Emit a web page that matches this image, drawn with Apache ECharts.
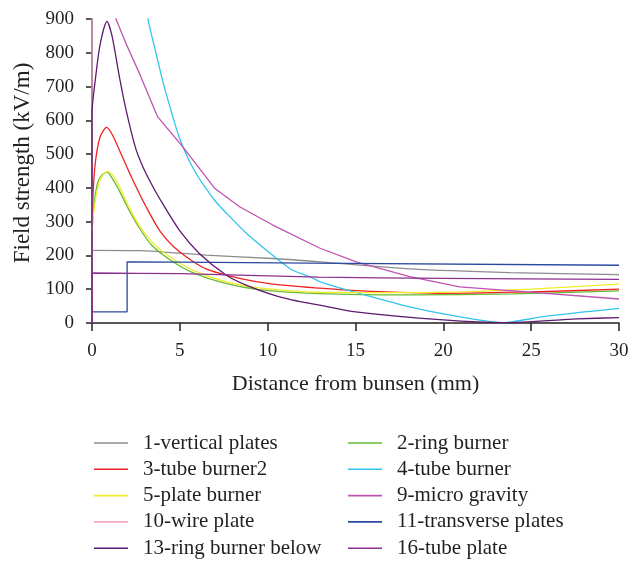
<!DOCTYPE html>
<html>
<head>
<meta charset="utf-8">
<script src="https://cdn.jsdelivr.net/npm/echarts@6/dist/echarts.min.js"></script>
<style>
html,body{margin:0;padding:0;background:#fff;}
#chart{width:643px;height:562px;}
</style>
</head>
<body>
<div id="chart"></div>
<script>
var xTicks = [0, 5, 10, 15, 20, 25, 30];
var yTicks = [0, 100, 200, 300, 400, 500, 600, 700, 800, 900];

var names = ['1-vertical plates','2-ring burner','3-tube burner2','4-tube burner','5-plate burner','9-micro gravity','10-wire plate','11-transverse plates','13-ring burner below','16-tube plate'];

var verticalPlates = [[0,215],[2.7,214],[6.5,201],[10.3,191],[12.95,181],[18.1,160],[23.8,149],[30,143]];
var ringBurner = [[0,270],[0.15,365],[0.35,420],[0.6,440],[0.88,446],[1.15,428],[1.5,397],[2.05,340],[2.65,285],[3.4,230],[4.5,185],[5.7,150],[7.6,117],[9.5,99],[12.9,87],[18,83],[24,86],[30,95]];
var tubeBurner2 = [[0,300],[0.15,455],[0.45,550],[0.83,579],[1.2,553],[1.7,495],[2.31,425],[3.08,344],[3.9,270],[5,210],[6.5,160],[8.4,132],[10.3,115],[12.95,103],[15,96],[20,88],[25,92],[30,100]];
var tubeBurner = [[3.0,960],[3.2,896],[3.6,808],[4.0,722],[4.5,628],[5.0,545],[5.5,484],[6.0,436],[6.5,398],[7.0,362],[7.6,328],[8.8,265],[10.3,200],[11.4,157],[12.4,137],[13,122],[14.85,93],[18.08,48],[20.9,19],[23.4,1],[25.7,19],[30,43]];
var plateBurner = [[0,275],[0.15,350],[0.4,415],[0.7,443],[0.97,448],[1.25,432],[1.6,400],[2.1,343],[2.7,288],[3.5,235],[4.6,190],[5.8,155],[7.7,121],[9.6,103],[13,91],[18,90],[21,92],[25,100],[30,115]];
var microGravity = [[1.2,950],[1.37,899],[1.94,827],[2.7,739],[3.74,610],[5.16,522],[7.0,398],[8.4,344],[10.29,290],[12.95,222],[15.04,181],[18.08,137],[20.93,107],[24,95],[30,71]];
var wirePlate = [[0,0],[0,1000]];
var transversePlates = [[0,33],[2,33],[2,181],[5,180],[12.4,177],[30,171]];
var ringBurnerBelow = [[0,0],[0,620],[0.2,725],[0.47,827],[0.85,893],[1.14,850],[1.52,740],[1.9,640],[2.47,520],[2.9,462],[3.4,410],[3.83,370],[4.97,275],[6.11,206],[7.63,142],[8.77,112],[10.3,83],[11.43,68],[12.95,53],[15,33],[20,9],[23.5,1],[27.6,12],[30,16]];
var tubePlate = [[0,0],[0,148],[5,146],[12.9,136],[20,132],[30,129]];

var colors = ['#8c8c8c','#66bb33','#ee2222','#33c4ee','#f0ec2c','#c052b0','#f4a6c8','#2a4aa0','#5e1a6e','#8a3090'];
var datasets = [verticalPlates, ringBurner, tubeBurner2, tubeBurner, plateBurner, microGravity, wirePlate, transversePlates, ringBurnerBelow, tubePlate];
var smoothFlags = [0.25, 0.25, 0.25, 0.25, 0.25, false, false, false, 0.25, 0.25];

var FONT = '"Liberation Serif", "DejaVu Serif", serif';
var TXT = '#231f20';

var series = names.map(function (n, i) {
  return {
    name: n,
    type: 'line',
    data: datasets[i],
    showSymbol: false,
    symbol: 'none',
    smooth: smoothFlags[i],
    clip: true,
    lineStyle: { color: colors[i], width: 1.3 },
    itemStyle: { color: colors[i] },
    emphasis: { disabled: true }
  };
});

function legendCfg(list, left) {
  return {
    orient: 'vertical',
    left: left,
    top: 432,
    height: 200,
    padding: 0,
    data: list,
    icon: 'rect',
    itemWidth: 34,
    itemHeight: 1.6,
    itemGap: 4.3,
    selectedMode: false,
    textStyle: { fontFamily: FONT, fontSize: 21, color: TXT, lineHeight: 22, padding: [0, 0, 0, 10] }
  };
}

var chart = echarts.init(document.getElementById('chart'), null, { renderer: 'canvas' });
chart.setOption({
  animation: false,
  backgroundColor: '#ffffff',
  grid: { left: 92, right: 24, top: 19, bottom: 239, containLabel: false },
  legend: [
    legendCfg([names[0], names[2], names[4], names[6], names[8]], 94),
    legendCfg([names[1], names[3], names[5], names[7], names[9]], 348)
  ],
  xAxis: {
    type: 'value', min: xTicks[0], max: xTicks[xTicks.length - 1], interval: 5,
    name: 'Distance from bunsen (mm)', nameLocation: 'middle', nameGap: 50,
    nameTextStyle: { fontFamily: FONT, fontSize: 22, color: TXT },
    axisLine: { onZero: false, lineStyle: { color: '#231f20', width: 1.5 } },
    axisTick: { inside: false, length: 8, lineStyle: { color: '#231f20', width: 1.5 } },
    axisLabel: { fontFamily: FONT, fontSize: 19, color: TXT, margin: 19 },
    splitLine: { show: false }
  },
  yAxis: {
    type: 'value', min: yTicks[0], max: yTicks[yTicks.length - 1], interval: 100,
    name: 'Field strength (kV/m)', nameLocation: 'middle', nameGap: 57,
    nameTextStyle: { fontFamily: FONT, fontSize: 23, color: TXT, padding: [0, 0, 0, 16] },
    axisLine: { show: true, lineStyle: { color: '#231f20', width: 1.5 } },
    axisTick: { show: true, inside: false, length: 6, lineStyle: { color: '#231f20', width: 1.5 } },
    axisLabel: { fontFamily: FONT, fontSize: 19, color: TXT, margin: 18 },
    splitLine: { show: false }
  },
  series: series
});
</script>
</body>
</html>
